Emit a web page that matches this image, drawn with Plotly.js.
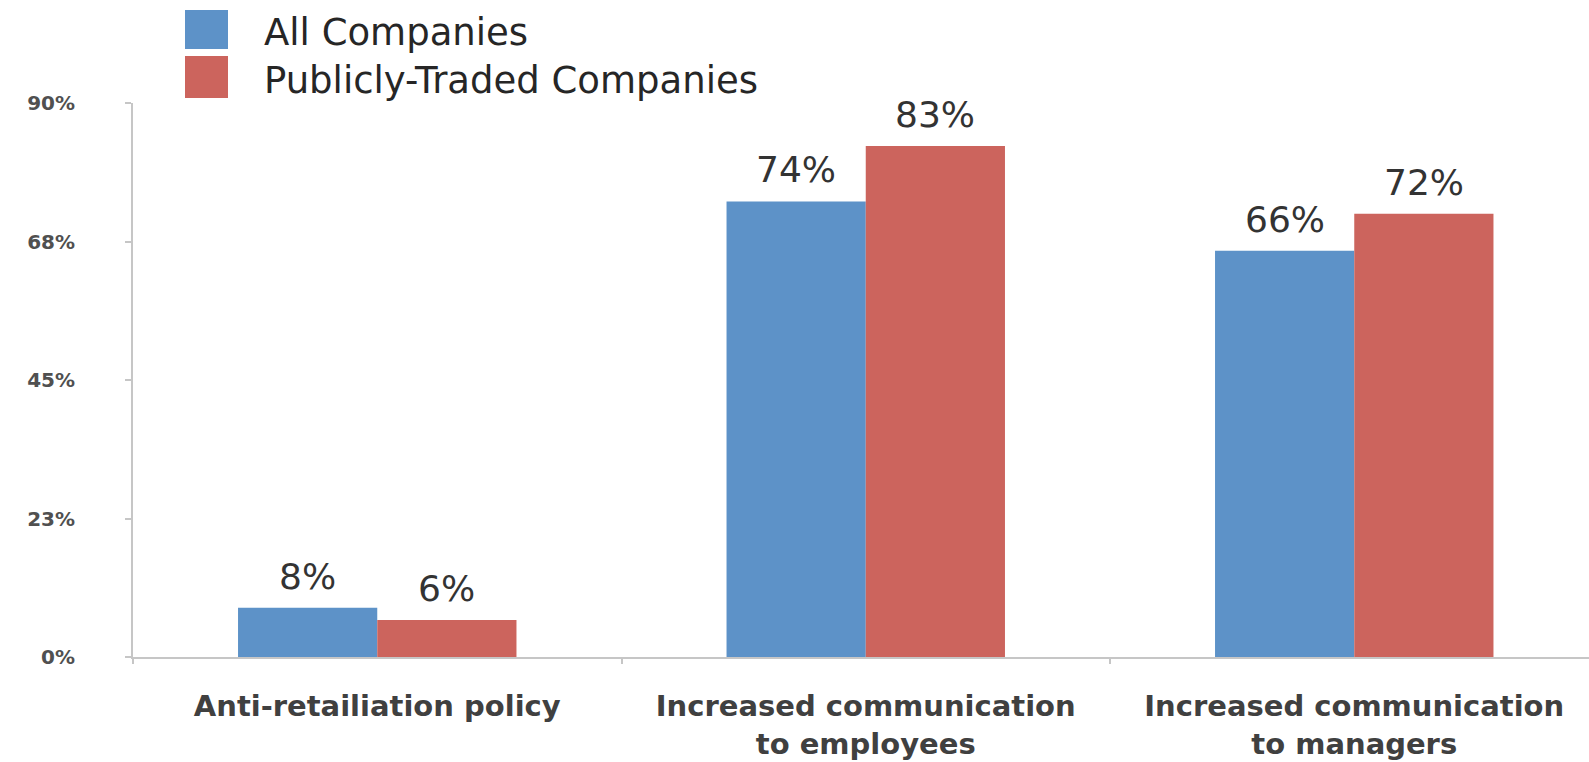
<!DOCTYPE html>
<html>
<head>
<meta charset="utf-8">
<script src="https://cdn.plot.ly/plotly-3.0.1.min.js"></script>
<style>
  html, body { margin: 0; padding: 0; background: #ffffff; }
  #chart { width: 1589px; height: 762px; }
</style>
</head>
<body>
<div id="chart"></div>
<script>
// ---- data ----
const categories = [
  "Anti-retailiation policy",
  "Increased communication<br>to employees",
  "Increased communication<br>to managers"
];
const seriesNames = ["All Companies", "Publicly-Traded Companies"];
const allCompanies = [8, 74, 66];
const publiclyTraded = [6, 83, 72];
const yTickVals = [0, 22.5, 45, 67.5, 90];
const yTickText = ["0%", "23%", "45%", "68%", "90%"];
const seriesColors = ["#5d92c8", "#cc645d"];

// ---- layout constants ----
const W = 1589, H = 762;
const M = { l: 133, r: 0, t: 103, b: 105 };
const plotW = W - M.l - M.r, plotH = H - M.t - M.b;
const bargap = 0.43;
const xRange = [-0.5, -0.5 + plotW / 488.5];
const FONT = "DejaVu Sans, sans-serif";

const seriesValues = [allCompanies, publiclyTraded];

const traces = seriesValues.map((vals, k) => ({
  type: "bar",
  name: seriesNames[k],
  x: categories,
  y: vals,
  marker: { color: seriesColors[k], line: { width: 0 } },
  hoverinfo: "x+y",
  showlegend: false
}));

// data labels as annotations above each bar
const annotations = [];
const barW = (1 - bargap) / seriesValues.length;
seriesValues.forEach((vals, k) => {
  const off = -((1 - bargap) / 2) + barW * (k + 0.5);
  vals.forEach((v, i) => {
    annotations.push({
      x: i + off, y: v, xref: "x", yref: "y",
      text: v + "%", showarrow: false,
      xanchor: "center", yanchor: "bottom", yshift: 9,
      font: { family: FONT, size: 36, color: "#333333", weight: 400 }
    });
  });
});

// manual legend (big squares)
const px2x = p => (p - M.l) / plotW;
const px2y = p => (H - M.b - p) / plotH;
const legendRows = [{ top: 10, bottom: 49, mid: 33 }, { top: 56, bottom: 98, mid: 80 }];
const shapes = [];
seriesNames.forEach((nm, k) => {
  const r = legendRows[k];
  shapes.push({
    type: "rect", xref: "paper", yref: "paper",
    x0: px2x(185), x1: px2x(228), y0: px2y(r.bottom), y1: px2y(r.top),
    fillcolor: seriesColors[k], line: { width: 0 }
  });
  annotations.push({
    xref: "paper", yref: "paper", x: px2x(262), y: px2y(r.mid),
    xanchor: "left", yanchor: "middle", showarrow: false,
    text: nm,
    font: { family: FONT, size: 37, color: "#262626", weight: 400 }
  });
});

const layout = {
  width: W, height: H,
  margin: M,
  paper_bgcolor: "#ffffff",
  plot_bgcolor: "#ffffff",
  barmode: "group",
  bargap: bargap,
  bargroupgap: 0,
  showlegend: false,
  xaxis: {
    type: "category",
    range: xRange,
    showline: true, linecolor: "#c6c6c6", linewidth: 2,
    ticks: "outside", tickson: "boundaries", ticklen: 5, tickcolor: "#c6c6c6", tickwidth: 2,
    showgrid: false, zeroline: false,
    ticklabelstandoff: 22,
    tickfont: { family: FONT, size: 29, color: "#404040", weight: 600 }
  },
  yaxis: {
    range: [0, 90],
    tickvals: yTickVals, ticktext: yTickText,
    showline: true, linecolor: "#c6c6c6", linewidth: 2,
    ticks: "outside", ticklen: 6, tickcolor: "#c6c6c6", tickwidth: 2,
    showgrid: false, zeroline: false,
    ticklabelstandoff: 46,
    tickfont: { family: FONT, size: 20, color: "#505050", weight: 700 }
  },
  annotations: annotations,
  shapes: shapes
};

Plotly.newPlot("chart", traces, layout, { displayModeBar: false, responsive: false });
</script>
</body>
</html>
